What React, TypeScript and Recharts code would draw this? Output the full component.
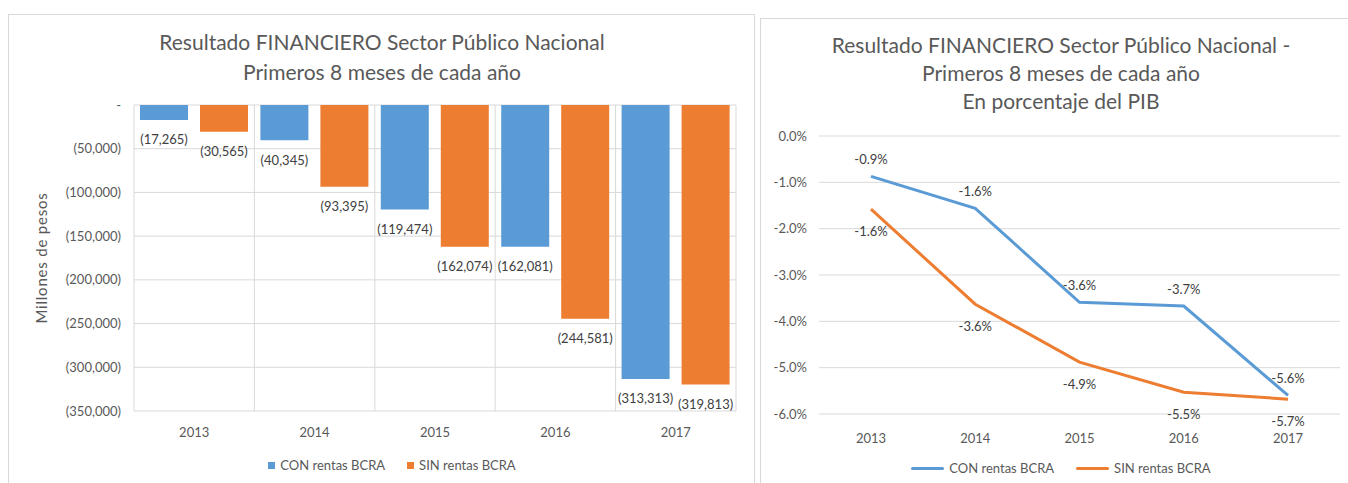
import React from "react";
import {
  BarChart,
  Bar,
  LineChart,
  Line,
  XAxis,
  YAxis,
  CartesianGrid,
  LabelList,
} from "recharts";

const years = ["2013", "2014", "2015", "2016", "2017"];
const conMillones = [-17265, -40345, -119474, -162081, -313313];
const sinMillones = [-30565, -93395, -162074, -244581, -319813];
const millonesTicks = [0, -50000, -100000, -150000, -200000, -250000, -300000, -350000];

const conPib = [-0.87, -1.56, -3.59, -3.67, -5.6];
const sinPib = [-1.58, -3.63, -4.88, -5.53, -5.68];
const pibTicks = [0, -1, -2, -3, -4, -5, -6];

const BLUE = "#5b9bd5";
const ORANGE = "#ed7d31";
const GRID = "#d9d9d9";
const AXIS_TEXT = "#595959";
const LABEL_TEXT = "#404040";
const FONT = "Lato, 'Open Sans', sans-serif";

const barData = years.map((y, i) => ({ year: y, con: conMillones[i], sin: sinMillones[i] }));
const lineData = years.map((y, i) => ({ year: y, con: conPib[i], sin: sinPib[i] }));

const fmtMillones = (v: number) =>
  v === 0 ? "-" : `(${Math.abs(v).toLocaleString("en-US")})`;
const fmtPct = (v: number) => `${Number(v).toFixed(1)}%`;

const tickStyle = { fill: AXIS_TEXT, fontSize: 13, fontFamily: FONT };
const labelStyle = { fill: LABEL_TEXT, fontSize: 13, fontFamily: FONT };

const titleStyle: React.CSSProperties = {
  position: "absolute",
  textAlign: "center",
  color: AXIS_TEXT,
  fontFamily: FONT,
  fontSize: 21,
  whiteSpace: "nowrap",
};

// grid lines on category boundaries, like Excel
const bandBoundaries = ({ offset }: any) =>
  years.map((_, i) => offset.left + (i * offset.width) / years.length).concat(offset.left + offset.width);

const LegendItem = ({ color, text, line }: { color: string; text: string; line?: boolean }) => (
  <span style={{ display: "inline-flex", alignItems: "center" }}>
    <span
      style={{
        display: "inline-block",
        width: line ? 33 : 7,
        height: line ? 3 : 7,
        borderRadius: line ? 2 : 0,
        background: color,
        marginRight: 5,
      }}
    />
    {text}
  </span>
);

const legendStyle: React.CSSProperties = {
  position: "absolute",
  display: "flex",
  justifyContent: "center",
  gap: 22,
  fontFamily: FONT,
  fontSize: 13,
  color: AXIS_TEXT,
};

export default function App() {
  return (
    <div style={{ position: "absolute", left: 0, top: 0, width: 1348, height: 483, background: "#fff", overflow: "hidden" }}>
      {/* chart boxes */}
      <div style={{ position: "absolute", left: 8, top: 14, width: 745, height: 480, border: `1px solid ${GRID}` }} />
      <div style={{ position: "absolute", left: 760, top: 18, width: 600, height: 480, border: `1px solid ${GRID}` }} />

      <div style={{ ...titleStyle, left: 8, width: 748, top: 27, lineHeight: "30px" }}>
        Resultado FINANCIERO Sector Público Nacional
        <br />
        Primeros 8 meses de cada año
      </div>

      <div style={{ position: "absolute", left: 0, top: 0 }}>
        <BarChart
          width={760}
          height={483}
          data={barData}
          margin={{ top: 105, right: 24, left: 0, bottom: 42 }}
          barSize={48}
          barGap={12}
        >
          <CartesianGrid stroke={GRID} verticalCoordinatesGenerator={bandBoundaries} />
          <XAxis
            dataKey="year"
            axisLine={false}
            tickLine={false}
            tick={tickStyle}
            tickSize={0}
            tickMargin={17}
            height={30}
          />
          <YAxis
            type="number"
            domain={[-350000, 0]}
            ticks={millonesTicks}
            tickFormatter={fmtMillones}
            axisLine={false}
            tickLine={false}
            tickSize={0}
            tickMargin={13}
            tick={tickStyle}
            width={134}
            label={{
              value: "Millones de pesos",
              angle: -90,
              position: "insideLeft",
              offset: 42,
              style: { textAnchor: "middle", fill: AXIS_TEXT, fontSize: 15, letterSpacing: 0.8, fontFamily: FONT },
            }}
          />
          <Bar dataKey="con" fill={BLUE} isAnimationActive={false}>
            <LabelList dataKey="con" position="top" offset={15} formatter={fmtMillones} style={labelStyle} />
          </Bar>
          <Bar dataKey="sin" fill={ORANGE} isAnimationActive={false}>
            <LabelList dataKey="sin" position="top" offset={15} formatter={fmtMillones} style={labelStyle} />
          </Bar>
        </BarChart>
      </div>

      <div style={{ ...legendStyle, left: 8, width: 768, top: 457 }}>
        <LegendItem color={BLUE} text="CON rentas BCRA" />
        <LegendItem color={ORANGE} text="SIN rentas BCRA" />
      </div>

      <div style={{ ...titleStyle, left: 760, width: 602, top: 31, lineHeight: "28px" }}>
        Resultado FINANCIERO Sector Público Nacional -
        <br />
        Primeros 8 meses de cada año
        <br />
        En porcentaje del PIB
      </div>

      <div style={{ position: "absolute", left: 760, top: 0 }}>
        <LineChart
          width={588}
          height={483}
          data={lineData}
          margin={{ top: 136, right: 8, left: 0, bottom: 39 }}
        >
          <CartesianGrid stroke={GRID} vertical={false} />
          <XAxis
            dataKey="year"
            axisLine={false}
            tickLine={false}
            tick={tickStyle}
            tickSize={0}
            tickMargin={20}
            height={30}
            padding={{ left: 52, right: 52 }}
          />
          <YAxis
            type="number"
            domain={[-6, 0]}
            ticks={pibTicks}
            tickFormatter={fmtPct}
            axisLine={false}
            tickLine={false}
            tickSize={0}
            tickMargin={12}
            tick={tickStyle}
            width={59}
          />
          <Line
            dataKey="con"
            stroke={BLUE}
            strokeWidth={3}
            dot={false}
            activeDot={false}
            isAnimationActive={false}
          >
            <LabelList dataKey="con" position="top" offset={12} formatter={fmtPct} style={labelStyle} />
          </Line>
          <Line
            dataKey="sin"
            stroke={ORANGE}
            strokeWidth={3}
            dot={false}
            activeDot={false}
            isAnimationActive={false}
          >
            <LabelList dataKey="sin" position="bottom" offset={18} formatter={fmtPct} style={labelStyle} />
          </Line>
        </LineChart>
      </div>

      <div style={{ ...legendStyle, left: 760, width: 602, top: 460 }}>
        <LegendItem color={BLUE} text="CON rentas BCRA" line />
        <LegendItem color={ORANGE} text="SIN rentas BCRA" line />
      </div>
    </div>
  );
}
